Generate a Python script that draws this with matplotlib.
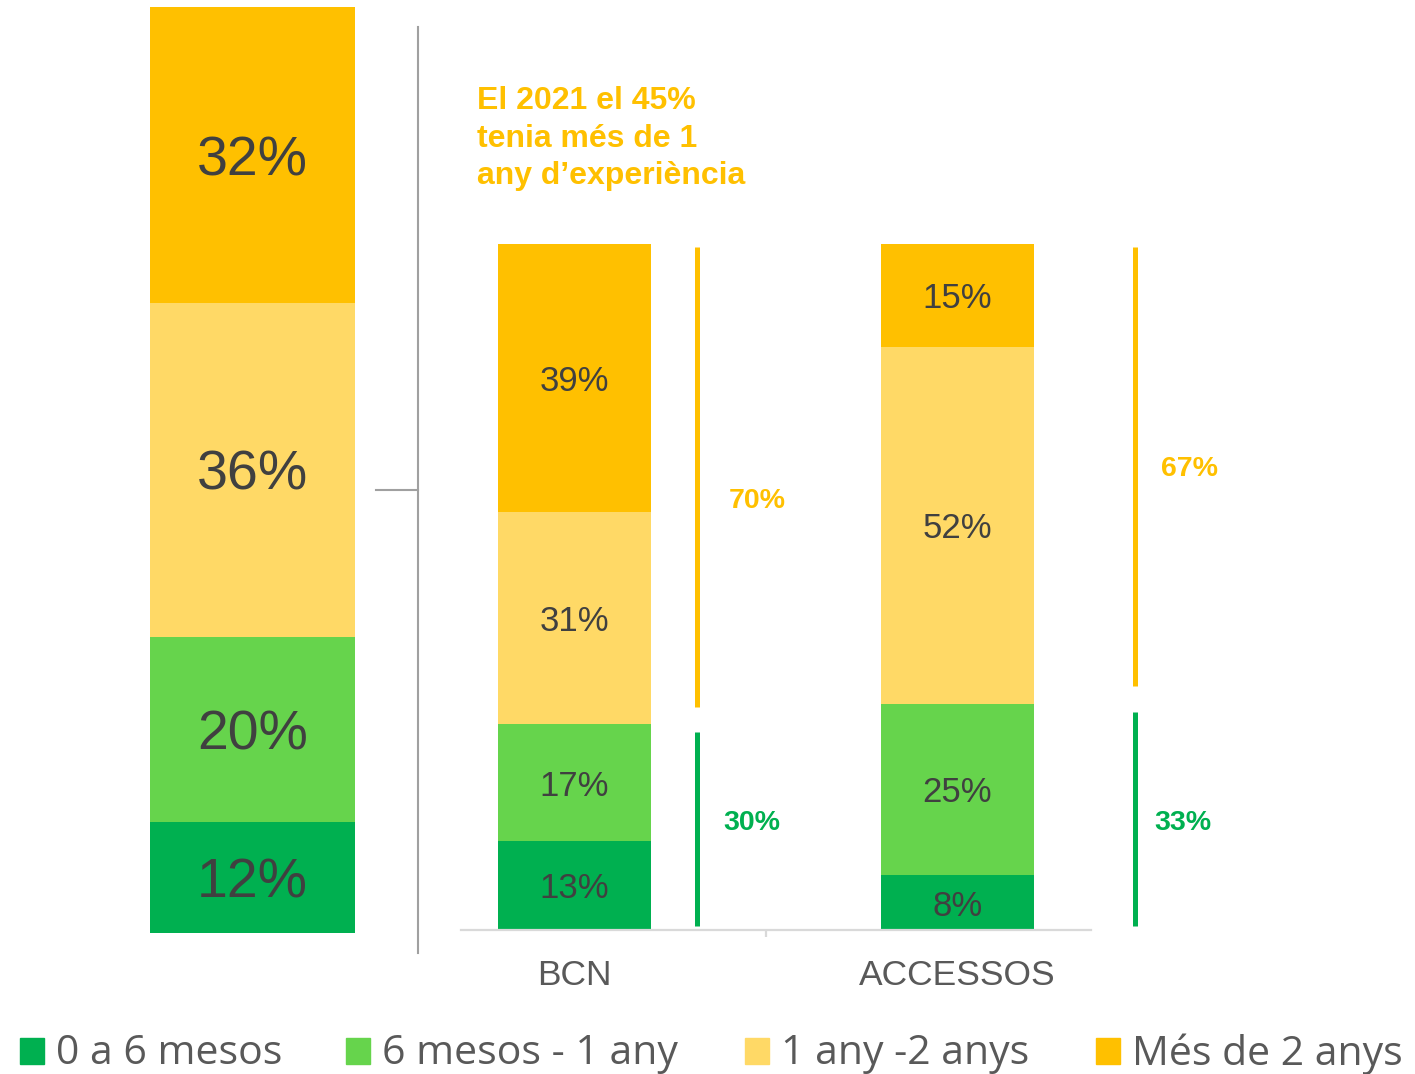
import matplotlib
matplotlib.use("Agg")
import matplotlib.pyplot as plt
from matplotlib.lines import Line2D
from matplotlib.patches import Rectangle

plt.rcParams['font.family'] = ['Liberation Sans', 'DejaVu Sans']

# data
levels = ['0 a 6 mesos', '6 mesos - 1 any', '1 any -2 anys', 'Més de 2 anys']
colors = ['#00B050', '#66D44C', '#FFD966', '#FFC000']
total_2021 = [12, 20, 36, 32]
categories = ['BCN', 'ACCESSOS']
bcn = [13, 17, 31, 39]
accessos = [8, 25, 52, 15]
less_than_1y = [30, 33]
more_than_1y = [70, 67]
note = 'El 2021 el 45%\ntenia més de 1\nany d\u2019experiència'

W, H = 1415, 1074
fig = plt.figure(figsize=(W / 100, H / 100), dpi=100)


def px_axes(x0, y0, x1, y1):
    # pixel box (top-left origin) -> figure axes
    return fig.add_axes([x0 / W, 1 - y1 / H, (x1 - x0) / W, (y1 - y0) / H])


# left stacked bar (2021)
axl = px_axes(150, 7, 355, 933)
bottom = 0
for v, c in zip(total_2021, colors):
    axl.bar(0, v, bottom=bottom, width=1.0, color=c)
    axl.text(0, bottom + v / 2, f'{v}%', ha='center', va='center_baseline',
             fontsize=40, color='#404040')
    bottom += v
axl.set_xlim(-0.5, 0.5)
axl.set_ylim(0, 100)
axl.axis('off')

# separator lines
fig.add_artist(Line2D([418 / W, 418 / W], [1 - 27 / H, 1 - 953 / H],
                      transform=fig.transFigure, color='#A0A0A0', lw=1.5))
fig.add_artist(Line2D([376 / W, 418 / W], [1 - 490 / H, 1 - 490 / H],
                      transform=fig.transFigure, color='#A0A0A0', lw=1.5))

# right stacked bars
ax = px_axes(461, 244, 1091, 930)
series = list(zip(*[bcn, accessos]))
xs = [0, 1]
bottoms = [0, 0]
for vals, c in zip(series, colors):
    ax.bar(xs, vals, bottom=bottoms, width=0.4, color=c)
    for x, v, b in zip(xs, vals, bottoms):
        ax.text(x, b + v / 2, f'{v}%', ha='center', va='center_baseline',
                fontsize=25, color='#404040')
    bottoms = [b + v for b, v in zip(bottoms, vals)]

# brackets
bx = [0.32, 1.463]
lab_dx_low = [0.143, 0.126]
lab_dx_high = [0.157, 0.144]
lab_y_low = [16, 16]
lab_y_high = [63, 67.6]
for i, (x, lo, hi) in enumerate(zip(bx, less_than_1y, more_than_1y)):
    g_top = lo - 1.2
    y_bot = lo + 2.5
    ax.plot([x, x], [0.6, g_top], color=colors[0], lw=3.6,
            solid_capstyle='butt', clip_on=False)
    ax.plot([x, x], [y_bot, 99.6], color=colors[3], lw=3.6,
            solid_capstyle='butt', clip_on=False)
    ax.text(x + lab_dx_low[i], lab_y_low[i], f'{lo}%', ha='center',
            va='center_baseline', fontsize=20.5, fontweight='bold',
            color=colors[0])
    ax.text(x + lab_dx_high[i], lab_y_high[i], f'{hi}%', ha='center',
            va='center_baseline', fontsize=20.5, fontweight='bold',
            color=colors[3])

ax.set_xlim(-0.296, 1.349)
ax.set_ylim(0, 100)
for s in ['top', 'right', 'left']:
    ax.spines[s].set_visible(False)
ax.spines['bottom'].set_color('#D9D9D9')
ax.spines['bottom'].set_linewidth(1.6)
ax.set_yticks([])
ax.set_xticks(xs)
ax.set_xticklabels(categories, fontsize=25.5, color='#595959')
ax.tick_params(axis='x', length=0, pad=21)
ax.set_xticks([0.5], minor=True)
ax.tick_params(axis='x', which='minor', length=5, width=1.6, color='#D9D9D9')

# note
fig.text(477 / W, 1 - 86 / H, note, ha='left', va='top', fontsize=23,
         fontweight='bold', color='#FFC000', linespacing=1.33)

# legend
leg_x = [20, 346, 745, 1096]
for x, lab, c in zip(leg_x, levels, colors):
    fig.add_artist(Rectangle((x / W, 1 - 1064 / H), 24 / W, 26 / H,
                             transform=fig.transFigure, color=c))
    fig.text((x + 36) / W, 1 - 1054 / H, lab, ha='left', va='center',
             fontsize=29.5, color='#595959', family=['Open Sans', 'DejaVu Sans'])

fig.savefig('out.png', dpi=100)
